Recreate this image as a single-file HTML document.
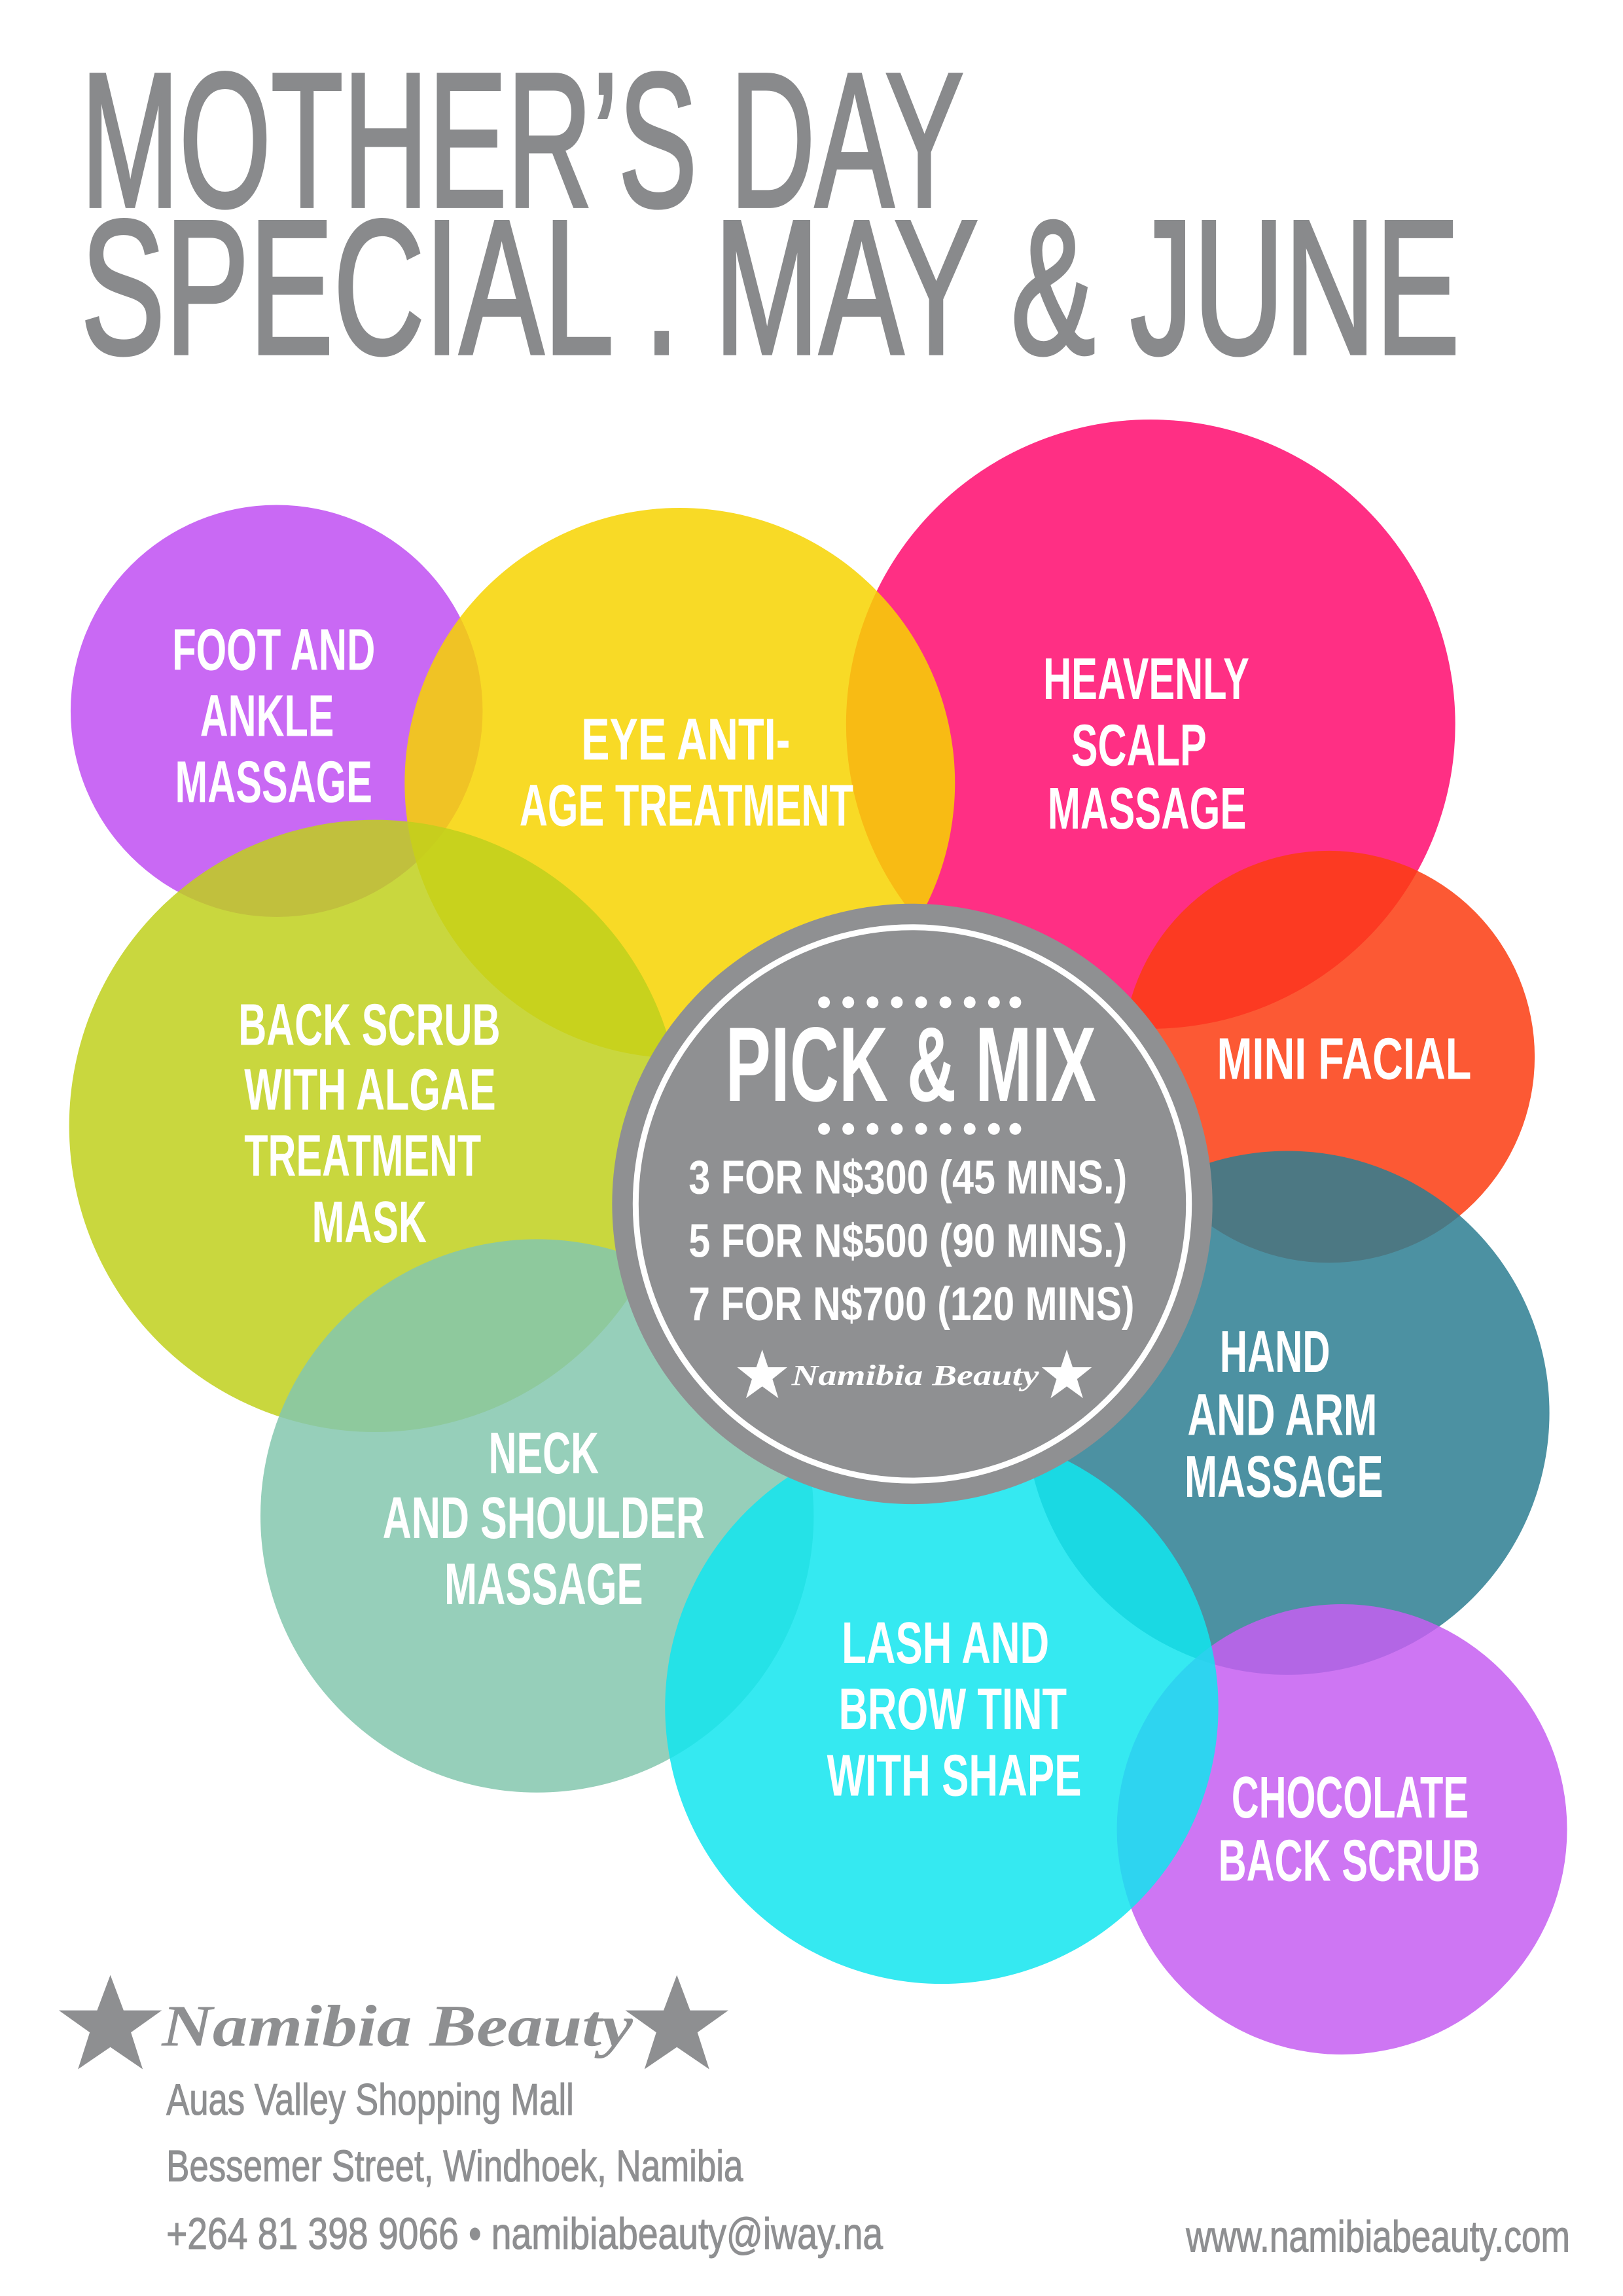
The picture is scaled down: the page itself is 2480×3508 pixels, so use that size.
<!DOCTYPE html>
<html><head><meta charset="utf-8"><style>
html,body{margin:0;padding:0;background:#fff}
svg{display:block}
.t{font-family:"Liberation Sans Narrow","Liberation Sans",sans-serif;font-weight:bold;fill:#fff}
.h{font-family:"Liberation Sans Narrow","Liberation Sans",sans-serif;font-weight:normal;fill:#898a8c;stroke:#898a8c;stroke-width:2.5}
.s{font-family:"Liberation Serif",serif;font-style:italic;font-weight:bold}
.a{font-family:"Liberation Sans Narrow","Liberation Sans",sans-serif;fill:#8e8f91;stroke:#8e8f91;stroke-width:0.5}
circle.c{fill-opacity:0.85}
</style></head><body>
<svg width="2480" height="3508" viewBox="0 0 1103 1560" xmlns="http://www.w3.org/2000/svg">
<rect width="1103" height="1560" fill="#fff"/>
<text class="h" x="55" y="140" font-size="130" textLength="600" lengthAdjust="spacingAndGlyphs">MOTHER’S DAY</text>
<text class="h" x="55" y="240" font-size="130" textLength="937" lengthAdjust="spacingAndGlyphs">SPECIAL . MAY &amp; JUNE</text>

<circle class="c" cx="188" cy="483" r="140" fill="#bf4ff2"/>
<circle class="c" cx="782" cy="492" r="207" fill="#ff0a6e"/>
<circle class="c" cx="462" cy="532" r="187" fill="#f7d300"/>
<circle class="c" cx="903" cy="718" r="140" fill="#fb3c10"/>
<circle class="c" cx="255" cy="765" r="208" fill="#bfd01c"/>
<circle class="c" cx="365" cy="1030" r="188" fill="#84c7ae"/>
<circle class="c" cx="875" cy="960" r="178" fill="#2d7e92"/>
<circle class="c" cx="912" cy="1243" r="153" fill="#c55ef1"/>
<circle class="c" cx="640" cy="1160" r="188" fill="#12e5ee"/>

<g class="t" font-size="40">
<text x="117" y="455" textLength="138" lengthAdjust="spacingAndGlyphs">FOOT AND</text>
<text x="136" y="500" textLength="91" lengthAdjust="spacingAndGlyphs">ANKLE</text>
<text x="119" y="545" textLength="134" lengthAdjust="spacingAndGlyphs">MASSAGE</text>
<text x="395" y="516" textLength="142" lengthAdjust="spacingAndGlyphs">EYE ANTI-</text>
<text x="353" y="561" textLength="227" lengthAdjust="spacingAndGlyphs">AGE TREATMENT</text>
<text x="709" y="475" textLength="140" lengthAdjust="spacingAndGlyphs">HEAVENLY</text>
<text x="728" y="520" textLength="92" lengthAdjust="spacingAndGlyphs">SCALP</text>
<text x="712" y="563" textLength="135" lengthAdjust="spacingAndGlyphs">MASSAGE</text>
<text x="827" y="733" textLength="173" lengthAdjust="spacingAndGlyphs">MINI FACIAL</text>
<text x="162" y="710" textLength="178" lengthAdjust="spacingAndGlyphs">BACK SCRUB</text>
<text x="166" y="754" textLength="171" lengthAdjust="spacingAndGlyphs">WITH ALGAE</text>
<text x="166" y="799" textLength="161" lengthAdjust="spacingAndGlyphs">TREATMENT</text>
<text x="212" y="844" textLength="78" lengthAdjust="spacingAndGlyphs">MASK</text>
<text x="332" y="1001" textLength="75" lengthAdjust="spacingAndGlyphs">NECK</text>
<text x="260" y="1045" textLength="219" lengthAdjust="spacingAndGlyphs">AND SHOULDER</text>
<text x="302" y="1090" textLength="135" lengthAdjust="spacingAndGlyphs">MASSAGE</text>
<text x="829" y="932" textLength="75" lengthAdjust="spacingAndGlyphs">HAND</text>
<text x="807" y="975" textLength="129" lengthAdjust="spacingAndGlyphs">AND ARM</text>
<text x="805" y="1017" textLength="135" lengthAdjust="spacingAndGlyphs">MASSAGE</text>
<text x="572" y="1130" textLength="141" lengthAdjust="spacingAndGlyphs">LASH AND</text>
<text x="570" y="1175" textLength="155" lengthAdjust="spacingAndGlyphs">BROW TINT</text>
<text x="562" y="1220" textLength="173" lengthAdjust="spacingAndGlyphs">WITH SHAPE</text>
<text x="837" y="1235" textLength="161" lengthAdjust="spacingAndGlyphs">CHOCOLATE</text>
<text x="828" y="1278" textLength="178" lengthAdjust="spacingAndGlyphs">BACK SCRUB</text>
</g>

<circle cx="620" cy="818" r="204" fill="#8f9092"/>
<circle cx="620" cy="818" r="188" fill="none" stroke="#fff" stroke-width="4"/>
<g fill="#fff">
<circle cx="560" cy="681" r="4"/><circle cx="576.5" cy="681" r="4"/><circle cx="593" cy="681" r="4"/><circle cx="609.5" cy="681" r="4"/><circle cx="626" cy="681" r="4"/><circle cx="642.5" cy="681" r="4"/><circle cx="659" cy="681" r="4"/><circle cx="675.5" cy="681" r="4"/><circle cx="690" cy="681" r="4"/>
<circle cx="560" cy="767" r="4"/><circle cx="576.5" cy="767" r="4"/><circle cx="593" cy="767" r="4"/><circle cx="609.5" cy="767" r="4"/><circle cx="626" cy="767" r="4"/><circle cx="642.5" cy="767" r="4"/><circle cx="659" cy="767" r="4"/><circle cx="675.5" cy="767" r="4"/><circle cx="690" cy="767" r="4"/>
</g>
<g class="t">
<text x="493" y="748" font-size="72" textLength="252" lengthAdjust="spacingAndGlyphs">PICK &amp; MIX</text>
<text x="468" y="811" font-size="32" textLength="298" lengthAdjust="spacingAndGlyphs">3 FOR N$300 (45 MINS.)</text>
<text x="468" y="854" font-size="32" textLength="298" lengthAdjust="spacingAndGlyphs">5 FOR N$500 (90 MINS.)</text>
<text x="468" y="897" font-size="32" textLength="303" lengthAdjust="spacingAndGlyphs">7 FOR N$700 (120 MINS)</text>
</g>
<g fill="#fff">
<polygon points="518,917 522,929 535,929 525,937 529,950 518,942 507,950 511,937 501,929 514,929"/>
<polygon points="725,917 729,929 742,929 732,937 736,950 725,942 714,950 718,937 708,929 721,929"/>
</g>
<text class="s" x="538" y="941" font-size="20" fill="#fff" textLength="168" lengthAdjust="spacingAndGlyphs">Namibia Beauty</text>

<g fill="#8e8f91">
<polygon points="75,1342 84,1366 110,1366 89,1381 97,1406 75,1391 53,1406 61,1381 40,1366 66,1366"/>
<polygon points="460,1342 469,1366 495,1366 474,1381 482,1406 460,1391 438,1406 446,1381 425,1366 451,1366"/>
</g>
<text class="s" x="110" y="1390" font-size="40" fill="#8e8f91" textLength="320" lengthAdjust="spacingAndGlyphs">Namibia Beauty</text>
<g class="a" font-size="30">
<text x="113" y="1437" textLength="277" lengthAdjust="spacingAndGlyphs">Auas Valley Shopping Mall</text>
<text x="113" y="1482" textLength="392" lengthAdjust="spacingAndGlyphs">Bessemer Street, Windhoek, Namibia</text>
<text x="113" y="1528" textLength="487" lengthAdjust="spacingAndGlyphs">+264 81 398 9066 • namibiabeauty@iway.na</text>
<text x="806" y="1530" textLength="261" lengthAdjust="spacingAndGlyphs">www.namibiabeauty.com</text>
</g>
</svg>
</body></html>
